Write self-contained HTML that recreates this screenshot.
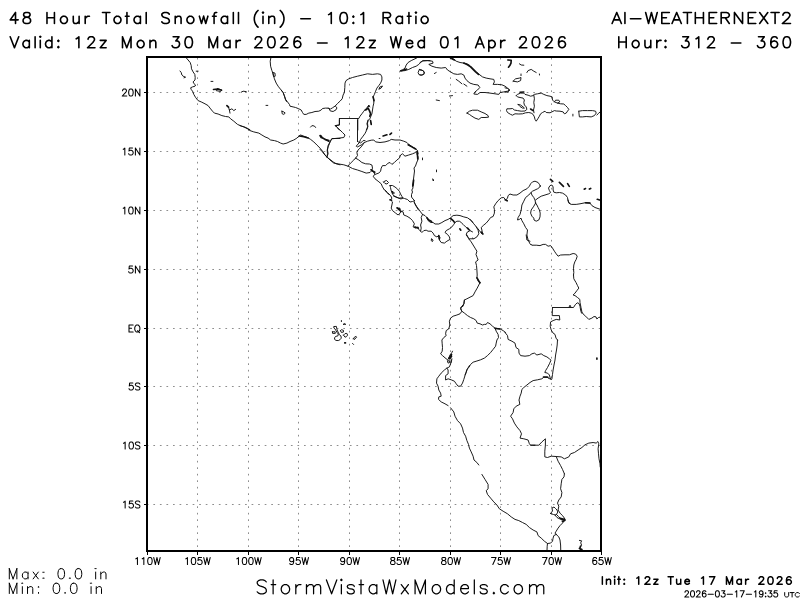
<!DOCTYPE html>
<html><head><meta charset="utf-8"><title>48 Hour Total Snowfall</title>
<style>html,body{margin:0;padding:0;background:#fff;font-family:"Liberation Sans",sans-serif}svg{display:block}</style>
</head><body>
<svg width="800" height="600" viewBox="0 0 800 600">
<rect width="800" height="600" fill="#fff"/>
<path d="M197.5 58.0V551.0M248.5 58.0V551.0M298.5 58.0V551.0M349.5 58.0V551.0M399.5 58.0V551.0M450.5 58.0V551.0M500.5 58.0V551.0M551.5 58.0V551.0" fill="none" stroke="#8e8e8e" stroke-width="1" stroke-dasharray="1.7 4.8" stroke-dashoffset="0.2"/>
<path d="M148.0 92.5H601.0M148.0 151.5H601.0M148.0 210.5H601.0M148.0 269.5H601.0M148.0 328.5H601.0M148.0 386.5H601.0M148.0 445.5H601.0M148.0 504.5H601.0" fill="none" stroke="#8e8e8e" stroke-width="1" stroke-dasharray="1.7 4.85" stroke-dashoffset="1.2"/>
<defs><clipPath id="mc"><rect x="147.0" y="57.0" width="454.0" height="494.0"/></clipPath></defs><g fill="none" stroke="#111" stroke-linejoin="round" stroke-linecap="round" clip-path="url(#mc)"><path stroke-width="0.95" d="M186.2 57.8L188.1 60.0L190.2 62.5L191.2 65.6L191.5 68.8L193.1 71.9L194.8 74.4L195.2 77.5L195.0 80.0L193.1 81.9L193.8 83.5L195.6 85.0L195.0 86.2L192.5 86.9L190.6 87.8L191.2 89.4L192.5 91.2L193.8 94.4L195.6 97.5L198.1 100.6L201.2 101.9L205.0 103.8L208.1 105.6L210.0 108.1L212.5 111.2L214.4 113.1L218.1 114.0L221.9 115.6L225.6 116.5L228.8 116.9L230.6 118.8L233.8 121.2L237.5 124.4L241.2 126.0L245.0 127.2L248.8 129.0L250.0 129.8M180.0 71.0L181.2 72.5L181.9 75.0L183.1 76.2L185.6 77.2L184.0 77.8M196.2 71.2L198.1 71.2M211.0 81.4L212.9 81.4M217.5 88.5L221.9 90.0L220.6 91.5L216.2 90.6M241.2 92.2L243.1 91.2L246.2 91.6M228.5 107.2L229.4 110.0L231.9 108.8L233.8 110.6L235.6 109.4M229.4 110.0L230.0 113.1M240.0 125.6L243.8 126.9L247.5 128.8L250.0 130.6L253.8 131.9L258.8 133.1L261.9 135.0L265.0 136.9L268.1 138.1L270.6 140.0L274.4 140.6L277.5 141.5L280.6 143.1L283.1 144.0L286.9 143.1L290.0 141.5L293.8 140.0L296.9 138.1L298.8 136.2L300.6 135.0L303.8 136.2L307.5 137.5L310.6 139.4L313.8 141.9L316.9 145.0L320.0 148.1L322.5 151.2L325.0 155.0L326.9 157.2L330.0 159.4L333.1 161.9L336.2 163.8L340.0 164.8M281.2 90.0L283.1 92.5L284.4 95.6L285.6 99.4L287.5 101.9L289.4 104.4L290.0 106.2L293.1 106.9L295.6 107.5L298.8 108.8L301.2 110.0L302.5 112.5L303.8 114.4L306.2 114.4L308.8 113.1L311.9 112.5L315.0 111.5L318.8 111.2L321.2 110.0L322.5 108.5L325.6 108.1L328.1 108.2M326.9 157.2L327.5 153.8L327.2 150.0L328.1 146.9L329.4 143.8L330.6 140.6L331.9 138.5L340.0 138.5M266.0 105.4L267.8 105.4M281.9 111.2L283.8 111.9L285.2 113.1L283.8 114.4L282.2 113.8L281.9 111.2M310.6 127.1L311.9 125.6L314.4 126.0L315.6 127.5M271.0 57.2L270.2 61.2L270.6 66.2L271.9 70.6L273.1 73.8L274.4 78.8L276.2 83.1L278.1 86.2L280.6 89.4L283.1 92.5L284.4 96.2L285.6 100.0L286.5 101.5M272.8 72.5L275.0 73.1L275.2 76.2L273.5 76.5L272.8 72.5M335.2 106.0L337.5 103.5L340.2 101.0L342.2 98.8L343.1 95.0L344.4 92.5L344.8 87.5L345.0 83.1L346.0 80.6L348.8 78.8L352.5 77.5L357.5 76.2L362.5 75.0L367.5 73.8L372.5 74.4L377.5 73.8L380.6 74.4L381.9 76.9L381.9 80.0L380.6 83.1L378.8 85.6L376.9 88.1L375.6 91.2L374.4 94.4L373.1 96.9L373.8 100.0L373.8 103.1L373.1 106.2L372.5 110.0L371.9 113.8L370.6 116.9L369.8 118.8L368.1 120.6L367.5 123.1L367.8 126.2L366.9 128.8L366.2 130.0M379.1 89.0L379.8 87.0L382.5 86.0L381.0 88.2L379.1 89.0M328.2 108.2L329.0 108.5L330.2 110.9L333.1 111.5L336.0 109.8L337.0 107.8L335.2 106.0L332.5 107.8L330.5 109.0L329.0 108.5M339.4 118.5L358.8 118.5L360.0 116.2L361.9 113.8L363.8 111.2L365.6 109.0L367.5 107.2L369.0 106.2M367.5 107.2L368.8 105.0L369.8 106.9M339.4 118.5L339.4 125.0L335.6 125.6L337.5 127.5L339.4 130.0M357.8 118.5L357.8 130.0M400.6 70.6L402.5 70.0L405.0 68.1L406.2 65.0L408.1 62.5L411.2 60.6L415.0 58.8L417.5 57.5M400.6 71.0L405.0 70.6L408.8 69.4L412.5 67.5L416.2 66.2L418.8 64.4L421.2 61.9L423.1 60.6L430.0 60.6M419.4 69.4L421.9 70.0L424.4 71.9L423.8 74.4L421.2 75.2L418.8 74.4L418.1 72.5L419.4 69.4M420.0 62.5L422.5 61.0L427.5 60.6L432.5 61.2L433.1 63.1L428.8 64.4L431.9 66.2L436.2 67.5L441.2 68.1L445.6 67.5L447.5 70.0L450.6 71.9L453.8 73.8L457.5 74.4L461.2 73.8L463.8 75.0L465.0 78.1L466.9 80.6L470.0 83.1L473.8 84.4L478.1 85.0L479.8 87.5L477.5 90.0L475.0 91.9L473.8 94.0L477.5 94.4L480.0 92.5L485.0 92.5L490.0 93.1L495.0 93.8L498.8 94.4L500.0 92.5L503.8 91.9L507.5 91.2L509.4 89.8L507.5 88.1L505.0 86.2L501.9 84.8L497.5 84.4L493.1 84.4L494.4 81.9L493.8 79.4L490.0 78.8L486.2 78.1L482.5 76.9L480.0 75.0L477.5 73.1L475.0 70.6L472.5 68.1L470.0 65.6L466.9 63.8L463.8 63.1L460.0 62.5L456.2 61.2L453.1 58.8L450.0 57.5M456.2 79.4L458.8 81.2L461.9 83.8M463.8 84.0L466.9 86.2M436.2 100.0L439.4 100.6M449.4 96.0L452.5 95.6M420.0 70.0L423.1 70.6L424.4 73.1L422.5 75.0L420.0 75.0M434.4 73.5L436.2 72.5M466.9 113.1L469.4 111.2L472.5 110.2L477.5 110.2L481.2 111.9L485.0 113.5L488.1 115.6L488.5 117.2L485.0 117.5L481.2 117.5L478.8 119.4L475.0 118.1L471.9 116.2L469.4 114.4L466.9 113.1M519.4 63.8L521.2 65.0L523.8 65.2M526.9 72.5L528.1 70.6L531.2 69.4L533.8 71.2L536.2 72.5M539.4 74.0L539.5 75.0M513.1 81.2L515.6 78.8L519.4 78.1L521.0 77.5L520.6 80.6L517.5 81.9L513.1 81.2M521.0 74.0L521.0 75.6M505.0 87.8L507.5 88.5L509.8 90.0L508.1 91.9L505.0 92.2M516.2 95.6L517.5 94.4L520.6 93.1L523.8 93.1L525.0 94.4L528.1 95.2L530.6 96.2L533.1 95.6L534.4 94.4L537.5 93.8L541.2 93.1L543.8 94.4L546.9 95.6L550.0 96.2L552.2 96.9L552.5 100.0L554.4 101.9L557.5 103.1L560.6 103.8L563.8 104.0L565.6 105.6L567.5 107.5L568.8 109.4L567.5 111.2L566.2 113.1L564.4 113.8L563.1 111.9L560.0 111.2L556.2 111.0L554.4 110.6L551.9 111.9L550.0 112.8L546.2 112.5L545.0 111.2L542.5 112.5L540.6 113.8L539.4 116.2L537.8 118.8L536.2 121.2L535.0 119.4L534.4 116.9L533.1 114.4L531.2 113.1L528.8 112.5L525.6 112.8L522.5 113.8L518.8 114.0L515.0 113.8L512.5 115.2L510.6 114.4L507.5 112.5L506.5 110.6L506.9 108.8L510.0 108.8L512.5 108.5L514.4 110.0L517.5 110.6L521.2 111.2L525.0 111.0L526.9 109.4L526.2 106.9L524.4 105.0L523.8 102.5L524.4 100.0L523.1 98.1L520.0 97.5L517.5 96.9L516.2 95.6M554.4 101.9L555.6 100.2L558.8 100.2L559.8 101.9L557.5 103.1M518.1 104.4L520.6 105.0L523.1 106.9L524.4 108.1L522.5 108.1L520.0 106.5L518.1 104.4M533.8 95.0L534.4 98.8L533.8 102.5L534.4 106.2L533.5 110.0L534.0 112.8M578.8 111.2L582.5 110.6L587.5 110.6L592.5 110.6L595.6 111.2L596.2 113.1L594.4 115.6L591.2 116.9L586.2 116.5L582.5 116.9L579.4 116.9L579.0 113.8L578.8 111.2M572.9 114.2L572.9 116.0M596.9 115.0L598.8 113.1L599.8 112.2M339.4 120.0L339.4 125.0L335.0 125.6L336.9 127.5L340.0 130.0L342.5 132.5L345.0 135.0L343.8 137.5L338.8 138.1L331.9 138.8L330.0 141.9L328.1 145.6L327.5 150.0L328.1 153.8L326.9 156.9M320.0 149.4L322.5 151.9L325.0 155.0L326.9 156.9L330.0 160.0L333.8 163.1L338.8 164.0L343.8 164.8L348.1 166.2L352.5 168.5L357.5 170.0L361.9 171.5L366.2 173.1L370.0 172.5L371.9 170.6L373.8 172.5L375.0 174.4L373.1 176.2L375.0 178.8L378.1 181.2L381.2 183.8L382.5 186.9L384.4 190.0L387.5 193.1L389.4 195.0M357.5 120.0L357.5 141.5M368.1 120.0L366.9 123.8L367.8 126.9L366.5 130.6L364.8 133.8L362.5 136.9L360.6 139.4L359.4 142.5L356.2 146.2L357.5 146.9L361.2 145.0L364.4 142.5L367.5 141.2L371.2 140.2L373.8 140.0L375.6 141.9L380.0 142.5L385.0 141.9L389.4 140.6L391.2 139.4L395.0 140.0L400.0 140.0L403.8 141.2L406.9 142.5L409.4 145.0L412.5 146.9L415.6 148.8L417.5 150.6L418.1 153.8M357.5 141.5L360.6 143.1L363.1 140.6L365.0 140.6M379.1 138.5L380.0 138.5M364.4 142.5L361.2 146.9L358.1 150.0L356.9 152.5L357.5 155.6L355.6 158.1M355.6 158.1L353.8 160.0L351.2 162.5L349.4 164.4L348.1 166.2M355.6 158.1L358.8 160.0L361.9 162.5L365.6 163.8L369.4 164.0L371.9 165.0L372.5 168.1L371.9 170.0M375.0 174.4L378.8 173.1L380.6 171.2L381.2 168.1L382.5 165.6L385.6 165.6L388.1 163.1L390.0 162.5L391.9 164.4L394.4 162.5L396.9 160.0L399.4 158.1L400.6 155.0L402.5 153.8L405.0 156.2L408.8 155.0L412.5 153.8L415.6 152.5L417.5 151.2M417.5 151.0L417.0 154.0L418.0 157.0L417.8 160.0L416.5 163.0L415.5 166.0L414.0 168.0L414.5 171.0L414.0 175.0L413.5 179.0L413.2 182.0L412.5 185.0L413.0 188.0L411.8 190.0L412.5 192.0L411.5 194.5L411.5 197.0L413.0 199.0L414.5 200.5L414.0 202.0L416.0 206.0L418.5 210.0M383.5 182.0L385.0 181.0L386.5 180.5L388.5 182.5L387.0 184.0L385.0 183.5L383.5 182.0M390.0 185.5L392.5 185.5L395.0 187.0L397.5 189.0L399.5 191.5L400.5 194.0L402.0 196.5L403.0 198.0L401.0 199.0L398.5 198.0L396.0 197.0L393.5 195.5L392.0 193.0L391.0 190.0L390.5 187.5L390.0 185.5M392.5 191.5L394.5 193.0L392.5 193.5L392.5 191.5M393.5 196.0L396.0 197.0L399.0 198.2L402.0 197.8L404.5 198.5L407.5 199.5L410.0 202.0L412.5 201.5L414.5 200.5M422.5 158.0L422.5 159.8M436.5 170.0L436.5 171.8M432.8 179.2L433.8 180.0L433.2 181.0L432.8 179.2M385.0 190.0L387.5 192.5L390.6 195.6L391.9 198.1L390.6 200.0L392.5 201.9L391.9 205.0L391.2 208.1L392.5 210.6L395.6 213.1L398.1 215.0L400.0 213.1L401.2 211.2L403.1 211.9L403.8 215.0L406.9 216.2L410.0 218.1L412.5 220.6L414.4 223.8L413.1 226.9L415.6 228.1L418.1 226.9L418.8 229.4L420.6 231.2L421.9 232.5L423.8 230.6L426.2 230.2L428.1 231.2L431.2 231.2L433.1 233.1L434.4 235.6L436.9 236.9L438.8 235.6L440.0 237.5L439.4 240.0L441.2 242.5L444.4 243.1L446.9 241.2L450.0 239.4L449.4 236.9L447.5 234.4L445.0 232.5L446.2 230.6L449.4 228.8L451.9 226.9L453.8 224.4L455.0 222.5L456.9 221.2L459.4 221.2L461.2 222.5L463.1 224.4L465.6 226.9L468.1 228.8L470.0 230.6L472.5 231.9M470.0 230.6L466.9 232.5L466.2 235.0L468.1 237.5M414.5 202.5L415.0 203.8L416.9 206.9L418.8 209.4L420.6 211.9L422.5 214.4L425.0 215.6L426.9 217.5L428.1 220.6L430.6 222.5L433.1 222.5L435.0 224.0L438.8 224.0L441.9 222.5L445.0 220.6L448.1 219.4L450.6 217.8L453.1 215.6L456.9 215.2L460.0 215.6L463.8 216.9L467.5 217.8L470.6 220.0L473.1 222.5M422.5 214.4L421.2 217.5L421.9 221.2L420.6 225.0L421.2 228.1L420.6 231.2M431.5 239.0L433.1 240.0L432.5 241.5L431.2 240.6L431.5 239.0M482.5 233.8L481.9 230.0L481.2 227.5L483.8 225.0L486.2 223.1L488.8 220.0L490.6 217.5L493.1 216.5L494.4 213.1L494.4 209.4L493.8 206.9L495.6 203.8L498.1 200.6L501.2 197.8L503.8 197.5L505.6 200.0L507.5 198.1L508.1 195.6L510.0 194.0L513.1 195.0L516.9 195.0L520.0 193.1L523.1 190.6L526.9 188.8L529.4 186.2L530.6 183.8L532.5 181.9L535.0 181.2L538.1 182.5L539.4 184.4L540.6 186.0L539.4 187.5L537.5 188.8L535.0 190.0L532.5 191.2L531.0 192.5L531.9 195.0L533.8 197.5L535.0 200.0L535.6 203.1M535.6 203.1L533.8 206.2L531.2 210.0L530.6 213.1L531.9 216.2L533.8 218.1L534.0 220.0L536.2 221.2L538.8 220.0L540.0 216.9L540.2 213.1L539.4 210.0L538.1 207.5L536.9 205.0L535.6 203.1M535.6 200.0L538.1 198.1L541.2 196.2L545.0 195.0L548.8 193.8L550.6 192.5L549.4 190.6L548.5 188.1L550.0 185.6L551.9 185.0L553.1 186.9L553.1 190.0L553.8 192.2L556.2 192.8L559.4 192.5L562.5 193.1L565.6 195.0L567.5 197.5L568.1 201.2L570.0 203.8M531.0 192.5L528.8 195.0L525.6 197.5L523.8 201.2L521.9 205.0L521.2 210.0L520.0 214.4L518.1 217.5L517.5 220.0L519.4 219.4L521.0 218.1L521.9 220.6L523.8 223.8L525.6 227.5L527.5 230.0L526.9 235.0L528.1 240.0L530.0 243.8L531.2 245.0M470.0 219.4L473.8 223.8L476.9 227.5L479.4 230.6L481.9 233.8M476.2 226.9L478.1 230.0L478.8 233.8L476.9 236.9L473.8 238.8L472.5 238.1M539.6 186.0L540.3 186.0M568.1 200.0L568.8 203.1L571.2 204.4L576.2 204.4L580.0 203.8L585.0 202.8L590.0 203.1L591.9 205.6L595.0 207.5L599.4 209.0L601.2 209.5M531.2 244.4L531.9 245.2L536.2 245.2L540.0 245.6L543.1 244.4L545.6 244.4L548.1 246.2L550.6 245.6L552.5 248.1L554.4 251.2L556.2 253.8L558.1 256.2L560.6 255.0L565.0 254.8L569.4 254.8L573.1 253.5L575.6 254.0L577.2 256.2L576.2 259.4L574.8 261.9L573.8 265.0L573.5 268.8L573.8 272.5L573.5 275.0M573.5 275.0L573.8 278.8L576.0 282.5L577.5 285.6L578.8 288.1L576.9 290.6L575.0 293.1L573.1 295.0L575.0 295.6L577.5 297.5L579.8 299.4L580.0 302.5L581.0 307.5L581.9 311.9L583.1 314.0L585.6 316.2L588.8 319.4L591.9 318.1L594.0 316.5L596.0 316.9L596.9 319.0L598.5 317.5L601.2 316.9M552.5 307.5L570.0 307.5L573.5 307.5L575.2 304.8L577.2 302.8L579.0 303.5L580.0 306.2L580.6 310.0L581.5 313.1M569.0 307.2L570.0 305.2L571.0 307.2M552.5 307.5L552.2 315.6L559.4 315.6L559.8 320.0L556.2 319.4L553.1 320.6L550.6 321.9L550.2 326.2L551.2 330.0L553.1 333.1L555.0 334.4L556.0 338.1L557.5 340.0M466.9 235.0L468.8 238.8L471.2 241.9L473.1 245.0L475.0 248.1L476.9 251.2L476.0 254.4L477.2 257.5L478.1 260.0L475.6 261.9L476.5 265.6L476.9 270.0L477.2 275.0L476.9 278.1L478.1 280.6L480.0 282.5L478.8 285.0L477.2 288.1L475.0 291.9L473.1 295.6L470.0 297.2L466.9 298.8L464.4 300.0L463.8 303.8L463.1 306.2L460.6 307.5L461.2 310.0M468.8 238.8L473.1 238.8M526.2 235.0L526.9 240.0L530.0 241.2M464.4 300.0L464.0 303.8L461.9 306.2L460.6 308.8L461.9 311.2L460.0 313.8L456.9 315.0L453.1 316.2L450.6 318.1L449.4 321.2L449.8 325.0L448.8 328.8L446.2 330.6L445.6 333.8L446.2 335.6L443.8 337.5L441.9 340.0L442.2 343.8L442.5 347.5L442.2 351.2L440.6 353.8L442.5 355.6L445.0 357.8L447.5 359.8L448.8 358.1L450.0 355.0L451.9 352.5L452.5 351.2M451.9 358.8L451.2 362.5M447.5 361.0L449.4 360.6L449.8 362.5L448.1 363.1L447.5 361.0M461.9 311.2L464.4 313.1L467.5 315.6L470.6 317.5L473.8 318.8L476.2 320.6L477.2 323.1L480.0 323.8L482.5 325.0L484.4 324.4L486.2 324.4L487.5 322.5L490.0 323.8L492.5 326.2L495.0 328.1L500.0 328.8L503.1 330.6L505.6 332.5M495.0 328.1L496.2 331.2L498.1 334.4L498.5 337.5L496.9 340.0L496.2 343.1L495.6 346.2L493.1 349.4L490.6 352.5L487.5 355.6L484.4 358.1L480.6 359.8L476.9 361.0L473.1 362.2L470.6 364.4L468.8 367.5L466.9 369.4L466.2 372.5L465.0 375.0M451.2 360.0L450.6 363.8L449.4 366.9L446.9 368.1L444.4 370.0L441.2 373.1L438.8 376.2L436.9 378.8L436.5 383.1L438.1 386.2L438.8 390.0L440.6 393.1L441.2 396.2L438.8 396.9L438.5 399.4L441.2 401.9L445.0 403.8L448.1 405.6M446.9 368.1L448.1 370.0L448.1 373.8L445.6 375.6L445.6 380.0L448.1 378.8L451.2 379.8L454.4 381.2L456.2 383.8L458.1 386.2L460.6 386.2L462.5 383.1L463.8 379.4L465.0 375.6L466.2 371.9L467.5 368.8L469.4 365.6M505.0 332.5L507.5 335.6L508.1 339.4L511.9 341.2L515.0 343.1L516.0 347.5L518.8 349.4L519.0 353.1L520.6 355.6L525.0 356.2L529.4 355.6L531.9 353.8L534.4 353.1L536.9 355.0L541.2 353.8L543.8 355.6L546.9 356.9L549.4 358.8L551.0 360.2L549.4 363.8L547.5 367.5L545.6 370.6L544.8 372.5L547.5 373.1L549.4 375.0L550.2 378.1L551.2 379.4M557.5 340.0L557.2 345.0L556.5 350.0L555.6 355.0L555.0 360.0L554.0 365.0L553.1 370.0L552.5 374.4L551.9 378.8M551.2 379.4L548.1 378.1L547.5 376.9L543.8 377.2L541.9 378.8L537.5 379.8L533.1 380.6L530.0 382.5L526.9 385.0L523.8 387.5L521.9 389.4L521.2 393.1L520.0 396.2L519.0 400.0M450.6 407.8L453.8 411.9L455.0 416.2L457.5 420.6L460.6 423.8L462.5 428.1L463.5 432.5L465.6 436.2L466.9 440.6L468.5 444.4L469.4 448.1L471.2 451.9L473.1 456.2L474.0 460.0L476.9 462.5L478.8 465.0M519.2 400.6L519.8 404.4L516.2 406.2L513.8 408.8L513.1 412.5L510.6 416.2L512.5 418.8L514.4 423.1L516.9 426.9L520.0 430.6L521.5 433.8L520.0 438.1L523.8 438.8L528.1 440.0L529.4 443.8L530.6 445.2L535.0 445.2M530.6 445.2L538.8 445.2L541.9 441.9L545.4 438.8L545.4 445.0L544.8 451.2L544.8 456.9L547.5 457.5L551.2 456.2L556.2 456.5L561.2 456.9L564.4 458.8L568.8 456.9L570.6 453.8L574.4 452.5L578.1 450.0L581.9 447.5L585.0 444.8L588.8 443.1L593.1 442.5L596.2 443.1L597.9 441.5L598.8 443.8L598.1 448.8L598.5 453.8L599.0 458.8L600.0 463.8L600.2 466.9M556.2 456.5L558.1 461.2L560.6 465.6L562.5 469.4L564.4 473.8M481.9 474.4L485.0 479.4L488.1 484.4L488.1 488.8L486.2 490.6L487.5 494.4L490.6 498.1L493.8 501.9L496.9 505.0L499.4 508.8L503.1 511.2L507.5 513.8L511.2 516.9L515.0 519.4L518.8 520.6L522.5 522.5L526.2 524.4L529.4 527.5L533.1 530.0L536.9 531.9L538.1 535.6L541.2 538.1L544.4 541.2L547.5 543.5L547.2 546.2L546.9 552.5M547.5 543.5L550.6 543.1L552.5 541.2L553.1 538.1L553.8 535.6L556.2 534.4M556.2 534.4L558.8 536.9L560.0 540.0L560.6 545.0L560.8 552.5M564.4 473.8L564.0 476.9L561.9 479.4L561.2 483.8L560.6 488.8L561.9 492.5L561.2 496.9L558.8 500.0L557.5 503.1L558.8 506.2L558.1 510.0L560.0 513.1L562.5 515.6L564.4 518.1L564.8 520.0L562.5 523.1L560.0 525.6L558.1 528.1L556.2 531.2L555.0 533.1L556.2 534.4M579.4 540.4L581.6 540.8L580.7 542.9L581.6 545.1L580.5 546.8M334.1 326.5L336.4 326.4L336.8 328.8L337.5 331.0L338.6 332.9L339.4 334.8L340.9 335.9L341.3 338.1L340.1 339.6L338.3 340.6L336.0 340.4L334.5 339.3L334.7 337.4L336.0 336.3L337.9 335.9L338.3 334.0L337.1 332.5L336.0 330.6L334.9 328.8L333.8 328.0L334.1 326.5M332.4 331.8L335.1 331.8L335.3 333.4L332.6 333.4L332.4 331.8M340.5 330.6L341.6 329.7L343.5 330.4L343.4 332.1L341.3 332.4L340.5 330.6M343.5 335.1L345.0 333.6L346.9 333.4L347.6 335.1L346.5 336.6L345.0 337.2L343.5 335.1M353.4 338.9L354.4 337.2L356.1 336.4L356.6 337.2L355.1 338.9L354.0 339.5L353.4 338.9M352.5 343.4L353.6 344.5M341.4 320.5L341.4 321.6M343.4 324.3L344.6 323.5L345.8 324.4L343.4 324.3M550.5 513.5L552.5 511.0L552.0 508.0L554.0 507.0L555.5 508.5L557.0 510.0L557.8 512.0L556.5 514.5L555.0 515.0L553.5 514.5L552.0 514.0L550.5 513.5M556.5 514.5L558.5 516.5L560.0 518.0L562.0 518.5M555.0 515.0L557.0 517.5L559.0 518.5L560.5 519.2"/><path stroke-width="1.65" d="M213.5 89.5L217.5 89.0L221.5 90.2M226.9 105.6L228.5 107.2M299.4 136.0L303.8 136.8L308.1 138.0M320.0 135.6L321.2 137.5L323.1 138.1L325.0 139.4L327.5 140.6L328.8 141.2M365.6 110.0L368.1 108.1L369.4 110.6L370.6 113.8L369.8 116.2M370.8 121.9L371.2 124.4M373.1 96.9L374.0 100.6M401.0 70.8L403.8 70.0L406.5 69.0M463.8 63.1L467.5 64.8L470.6 66.9L473.1 69.4L475.6 71.9L478.5 74.4M450.6 58.1L454.4 60.0M507.8 60.0L511.2 60.2L511.0 63.1L509.8 65.6L508.5 67.2M530.6 109.0L533.1 110.6M520.0 92.2L523.8 92.0M320.6 135.6L322.5 138.1L325.6 139.4L328.8 140.6M371.0 169.8L373.1 171.2L374.8 172.2M408.1 144.8L411.9 146.9L415.6 149.0M370.6 120.6L371.2 123.8M383.1 136.0L386.9 134.8M390.0 134.4L391.5 133.1M413.6 180.0L413.0 186.0M417.2 152.0L417.8 159.0M397.0 207.8L400.0 209.2M397.2 207.8L399.4 210.0L401.0 211.5M390.0 199.8L391.5 200.2M426.9 217.8L428.8 220.0L431.5 221.5M450.6 218.5L453.1 220.6L454.4 222.2M438.8 235.6L439.2 238.8M459.8 228.8L460.8 230.2M467.5 228.1L469.0 229.8M415.0 226.9L417.8 228.1M481.5 232.5L482.8 233.8M505.2 199.8L507.2 200.8M481.5 232.2L482.9 234.0M550.5 179.4L552.7 181.4M559.4 182.4L563.4 186.4M567.6 183.6L569.3 186.4M584.2 189.2L585.5 188.5M589.4 189.1L590.7 188.4M597.3 199.3L600.4 200.2M585.6 202.8L590.0 203.0M477.0 277.8L479.0 281.5L480.0 282.8M448.8 358.5L450.6 356.0L451.5 354.4M449.8 358.8L451.5 356.2M495.6 328.5L499.8 329.0M543.5 377.0L547.8 377.2M596.9 358.0L596.9 359.2M580.5 546.2L579.8 548.5L581.3 550.5M579.4 548.3L581.9 549.6M344.7 342.9L345.5 342.9M560.5 518.5L564.5 519.2L565.0 520.2L562.5 521.5M561.5 519.5L564.0 520.0"/></g>
<rect x="147.0" y="57.0" width="454.0" height="494.0" fill="none" stroke="#000" stroke-width="2" shape-rendering="crispEdges"/>
<path d="M147.5 552.0V555.0M197.5 552.0V555.0M248.5 552.0V555.0M298.5 552.0V555.0M349.5 552.0V555.0M399.5 552.0V555.0M450.5 552.0V555.0M500.5 552.0V555.0M551.5 552.0V555.0M601.5 552.0V555.0M146.0 92.5H144.0M146.0 151.5H144.0M146.0 210.5H144.0M146.0 269.5H144.0M146.0 328.5H144.0M146.0 386.5H144.0M146.0 445.5H144.0M146.0 504.5H144.0" fill="none" stroke="#000" stroke-width="1" shape-rendering="crispEdges"/>
<path d="M122.59 90.67L122.59 90.34L122.91 89.67L123.23 89.34L123.88 89.01L125.16 89.01L125.80 89.34L126.11 89.67L126.44 90.34L126.44 91.00L126.11 91.67L125.47 92.67L122.27 96.00L126.75 96.00M130.59 89.01L129.63 89.34L129.00 90.34L128.68 92.00L128.68 93.00L129.00 94.67L129.63 95.67L130.59 96.00L131.23 96.00L132.19 95.67L132.84 94.67L133.16 93.00L133.16 92.00L132.84 90.34L132.19 89.34L131.23 89.01L130.59 89.01M135.40 89.01L135.40 96.00M135.40 89.01L139.88 96.00M139.88 89.01L139.88 96.00" fill="none" stroke="#000" stroke-width="1.05" stroke-linecap="round" stroke-linejoin="round"/>
<path d="M123.23 149.34L123.88 149.01L124.83 148.01L124.83 155.00M132.51 148.01L129.31 148.01L129.00 151.00L129.31 150.67L130.28 150.34L131.23 150.34L132.19 150.67L132.84 151.34L133.16 152.34L133.16 153.00L132.84 154.00L132.19 154.67L131.23 155.00L130.28 155.00L129.31 154.67L129.00 154.33L128.68 153.67M135.40 148.01L135.40 155.00M135.40 148.01L139.88 155.00M139.88 148.01L139.88 155.00" fill="none" stroke="#000" stroke-width="1.05" stroke-linecap="round" stroke-linejoin="round"/>
<path d="M123.23 208.34L123.88 208.01L124.83 207.01L124.83 214.00M130.59 207.01L129.63 207.34L129.00 208.34L128.68 210.00L128.68 211.00L129.00 212.67L129.63 213.67L130.59 214.00L131.23 214.00L132.19 213.67L132.84 212.67L133.16 211.00L133.16 210.00L132.84 208.34L132.19 207.34L131.23 207.01L130.59 207.01M135.40 207.01L135.40 214.00M135.40 207.01L139.88 214.00M139.88 207.01L139.88 214.00" fill="none" stroke="#000" stroke-width="1.05" stroke-linecap="round" stroke-linejoin="round"/>
<path d="M132.52 266.01L129.31 266.01L129.00 269.00L129.31 268.67L130.28 268.34L131.24 268.34L132.19 268.67L132.84 269.34L133.16 270.34L133.16 271.00L132.84 272.00L132.19 272.67L131.24 273.00L130.28 273.00L129.31 272.67L129.00 272.33L128.68 271.67M135.40 266.01L135.40 273.00M135.40 266.01L139.88 273.00M139.88 266.01L139.88 273.00" fill="none" stroke="#000" stroke-width="1.05" stroke-linecap="round" stroke-linejoin="round"/>
<path d="M129.00 325.01L129.00 332.00M129.00 325.01L133.16 325.01M129.00 328.34L131.56 328.34M129.00 332.00L133.16 332.00M136.68 325.01L136.03 325.34L135.40 326.01L135.08 326.67L134.75 327.67L134.75 329.34L135.08 330.33L135.40 331.00L136.03 331.67L136.68 332.00L137.96 332.00L138.59 331.67L139.24 331.00L139.56 330.33L139.88 329.34L139.88 327.67L139.56 326.67L139.24 326.01L138.59 325.34L137.96 325.01L136.68 325.01M137.63 330.67L139.56 332.67" fill="none" stroke="#000" stroke-width="1.05" stroke-linecap="round" stroke-linejoin="round"/>
<path d="M132.84 383.01L129.63 383.01L129.31 386.00L129.63 385.67L130.59 385.34L131.56 385.34L132.51 385.67L133.16 386.34L133.47 387.34L133.47 388.00L133.16 389.00L132.51 389.67L131.56 390.00L130.59 390.00L129.63 389.67L129.31 389.33L129.00 388.67M139.88 384.01L139.23 383.34L138.28 383.01L137.00 383.01L136.03 383.34L135.40 384.01L135.40 384.67L135.72 385.34L136.03 385.67L136.68 386.00L138.59 386.67L139.23 387.00L139.56 387.34L139.88 388.00L139.88 389.00L139.23 389.67L138.28 390.00L137.00 390.00L136.03 389.67L135.40 389.00" fill="none" stroke="#000" stroke-width="1.05" stroke-linecap="round" stroke-linejoin="round"/>
<path d="M123.55 443.34L124.19 443.01L125.15 442.01L125.15 449.00M130.91 442.01L129.95 442.34L129.31 443.34L129.00 445.00L129.00 446.00L129.31 447.67L129.95 448.67L130.91 449.00L131.55 449.00L132.51 448.67L133.16 447.67L133.47 446.00L133.47 445.00L133.16 443.34L132.51 442.34L131.55 442.01L130.91 442.01M139.88 443.01L139.23 442.34L138.27 442.01L137.00 442.01L136.03 442.34L135.39 443.01L135.39 443.67L135.72 444.34L136.03 444.67L136.67 445.00L138.59 445.67L139.23 446.00L139.56 446.34L139.88 447.00L139.88 448.00L139.23 448.67L138.27 449.00L137.00 449.00L136.03 448.67L135.39 448.00" fill="none" stroke="#000" stroke-width="1.05" stroke-linecap="round" stroke-linejoin="round"/>
<path d="M123.55 502.34L124.19 502.01L125.15 501.01L125.15 508.00M132.83 501.01L129.63 501.01L129.31 504.00L129.63 503.67L130.59 503.34L131.55 503.34L132.51 503.67L133.16 504.34L133.47 505.34L133.47 506.00L133.16 507.00L132.51 507.67L131.55 508.00L130.59 508.00L129.63 507.67L129.31 507.33L129.00 506.67M139.88 502.01L139.23 501.34L138.27 501.01L137.00 501.01L136.03 501.34L135.39 502.01L135.39 502.67L135.72 503.34L136.03 503.67L136.67 504.00L138.59 504.67L139.23 505.00L139.56 505.34L139.88 506.00L139.88 507.00L139.23 507.67L138.27 508.00L137.00 508.00L136.03 507.67L135.39 507.00" fill="none" stroke="#000" stroke-width="1.05" stroke-linecap="round" stroke-linejoin="round"/>
<path d="M135.84 558.84L136.48 558.51L137.44 557.51L137.44 564.50M142.24 558.84L142.88 558.51L143.84 557.51L143.84 564.50M149.60 557.51L148.64 557.84L148.00 558.84L147.68 560.50L147.68 561.50L148.00 563.17L148.64 564.17L149.60 564.50L150.24 564.50L151.20 564.17L151.84 563.17L152.16 561.50L152.16 560.50L151.84 558.84L151.20 557.84L150.24 557.51L149.60 557.51M153.76 557.51L155.36 564.50M156.96 557.51L155.36 564.50M156.96 557.51L158.56 564.50M160.16 557.51L158.56 564.50" fill="none" stroke="#000" stroke-width="1.05" stroke-linecap="round" stroke-linejoin="round"/>
<path d="M185.84 558.84L186.48 558.51L187.44 557.51L187.44 564.50M193.20 557.51L192.24 557.84L191.60 558.84L191.28 560.50L191.28 561.50L191.60 563.17L192.24 564.17L193.20 564.50L193.84 564.50L194.80 564.17L195.44 563.17L195.76 561.50L195.76 560.50L195.44 558.84L194.80 557.84L193.84 557.51L193.20 557.51M201.52 557.51L198.32 557.51L198.00 560.50L198.32 560.17L199.28 559.84L200.24 559.84L201.20 560.17L201.84 560.84L202.16 561.84L202.16 562.50L201.84 563.50L201.20 564.17L200.24 564.50L199.28 564.50L198.32 564.17L198.00 563.83L197.68 563.17M203.76 557.51L205.36 564.50M206.96 557.51L205.36 564.50M206.96 557.51L208.56 564.50M210.16 557.51L208.56 564.50" fill="none" stroke="#000" stroke-width="1.05" stroke-linecap="round" stroke-linejoin="round"/>
<path d="M236.84 558.84L237.48 558.51L238.44 557.51L238.44 564.50M244.20 557.51L243.24 557.84L242.60 558.84L242.28 560.50L242.28 561.50L242.60 563.17L243.24 564.17L244.20 564.50L244.84 564.50L245.80 564.17L246.44 563.17L246.76 561.50L246.76 560.50L246.44 558.84L245.80 557.84L244.84 557.51L244.20 557.51M250.60 557.51L249.64 557.84L249.00 558.84L248.68 560.50L248.68 561.50L249.00 563.17L249.64 564.17L250.60 564.50L251.24 564.50L252.20 564.17L252.84 563.17L253.16 561.50L253.16 560.50L252.84 558.84L252.20 557.84L251.24 557.51L250.60 557.51M254.76 557.51L256.36 564.50M257.96 557.51L256.36 564.50M257.96 557.51L259.56 564.50M261.16 557.51L259.56 564.50" fill="none" stroke="#000" stroke-width="1.05" stroke-linecap="round" stroke-linejoin="round"/>
<path d="M293.72 559.84L293.40 560.84L292.76 561.50L291.80 561.84L291.48 561.84L290.52 561.50L289.88 560.84L289.56 559.84L289.56 559.50L289.88 558.51L290.52 557.84L291.48 557.51L291.80 557.51L292.76 557.84L293.40 558.51L293.72 559.84L293.72 561.50L293.40 563.17L292.76 564.17L291.80 564.50L291.16 564.50L290.20 564.17L289.88 563.50M299.80 557.51L296.60 557.51L296.28 560.50L296.60 560.17L297.56 559.84L298.52 559.84L299.48 560.17L300.12 560.84L300.44 561.84L300.44 562.50L300.12 563.50L299.48 564.17L298.52 564.50L297.56 564.50L296.60 564.17L296.28 563.83L295.96 563.17M302.04 557.51L303.64 564.50M305.24 557.51L303.64 564.50M305.24 557.51L306.84 564.50M308.44 557.51L306.84 564.50" fill="none" stroke="#000" stroke-width="1.05" stroke-linecap="round" stroke-linejoin="round"/>
<path d="M344.72 559.84L344.40 560.84L343.76 561.50L342.80 561.84L342.48 561.84L341.52 561.50L340.88 560.84L340.56 559.84L340.56 559.50L340.88 558.51L341.52 557.84L342.48 557.51L342.80 557.51L343.76 557.84L344.40 558.51L344.72 559.84L344.72 561.50L344.40 563.17L343.76 564.17L342.80 564.50L342.16 564.50L341.20 564.17L340.88 563.50M348.88 557.51L347.92 557.84L347.28 558.84L346.96 560.50L346.96 561.50L347.28 563.17L347.92 564.17L348.88 564.50L349.52 564.50L350.48 564.17L351.12 563.17L351.44 561.50L351.44 560.50L351.12 558.84L350.48 557.84L349.52 557.51L348.88 557.51M353.04 557.51L354.64 564.50M356.24 557.51L354.64 564.50M356.24 557.51L357.84 564.50M359.44 557.51L357.84 564.50" fill="none" stroke="#000" stroke-width="1.05" stroke-linecap="round" stroke-linejoin="round"/>
<path d="M392.16 557.51L391.20 557.84L390.88 558.51L390.88 559.17L391.20 559.84L391.84 560.17L393.12 560.50L394.08 560.84L394.72 561.50L395.04 562.17L395.04 563.17L394.72 563.83L394.40 564.17L393.44 564.50L392.16 564.50L391.20 564.17L390.88 563.83L390.56 563.17L390.56 562.17L390.88 561.50L391.52 560.84L392.48 560.50L393.76 560.17L394.40 559.84L394.72 559.17L394.72 558.51L394.40 557.84L393.44 557.51L392.16 557.51M400.80 557.51L397.60 557.51L397.28 560.50L397.60 560.17L398.56 559.84L399.52 559.84L400.48 560.17L401.12 560.84L401.44 561.84L401.44 562.50L401.12 563.50L400.48 564.17L399.52 564.50L398.56 564.50L397.60 564.17L397.28 563.83L396.96 563.17M403.04 557.51L404.64 564.50M406.24 557.51L404.64 564.50M406.24 557.51L407.84 564.50M409.44 557.51L407.84 564.50" fill="none" stroke="#000" stroke-width="1.05" stroke-linecap="round" stroke-linejoin="round"/>
<path d="M443.16 557.51L442.20 557.84L441.88 558.51L441.88 559.17L442.20 559.84L442.84 560.17L444.12 560.50L445.08 560.84L445.72 561.50L446.04 562.17L446.04 563.17L445.72 563.83L445.40 564.17L444.44 564.50L443.16 564.50L442.20 564.17L441.88 563.83L441.56 563.17L441.56 562.17L441.88 561.50L442.52 560.84L443.48 560.50L444.76 560.17L445.40 559.84L445.72 559.17L445.72 558.51L445.40 557.84L444.44 557.51L443.16 557.51M449.88 557.51L448.92 557.84L448.28 558.84L447.96 560.50L447.96 561.50L448.28 563.17L448.92 564.17L449.88 564.50L450.52 564.50L451.48 564.17L452.12 563.17L452.44 561.50L452.44 560.50L452.12 558.84L451.48 557.84L450.52 557.51L449.88 557.51M454.04 557.51L455.64 564.50M457.24 557.51L455.64 564.50M457.24 557.51L458.84 564.50M460.44 557.51L458.84 564.50" fill="none" stroke="#000" stroke-width="1.05" stroke-linecap="round" stroke-linejoin="round"/>
<path d="M496.04 557.51L492.84 564.50M491.56 557.51L496.04 557.51M501.80 557.51L498.60 557.51L498.28 560.50L498.60 560.17L499.56 559.84L500.52 559.84L501.48 560.17L502.12 560.84L502.44 561.84L502.44 562.50L502.12 563.50L501.48 564.17L500.52 564.50L499.56 564.50L498.60 564.17L498.28 563.83L497.96 563.17M504.04 557.51L505.64 564.50M507.24 557.51L505.64 564.50M507.24 557.51L508.84 564.50M510.44 557.51L508.84 564.50" fill="none" stroke="#000" stroke-width="1.05" stroke-linecap="round" stroke-linejoin="round"/>
<path d="M547.04 557.51L543.84 564.50M542.56 557.51L547.04 557.51M550.88 557.51L549.92 557.84L549.28 558.84L548.96 560.50L548.96 561.50L549.28 563.17L549.92 564.17L550.88 564.50L551.52 564.50L552.48 564.17L553.12 563.17L553.44 561.50L553.44 560.50L553.12 558.84L552.48 557.84L551.52 557.51L550.88 557.51M555.04 557.51L556.64 564.50M558.24 557.51L556.64 564.50M558.24 557.51L559.84 564.50M561.44 557.51L559.84 564.50" fill="none" stroke="#000" stroke-width="1.05" stroke-linecap="round" stroke-linejoin="round"/>
<path d="M596.56 558.51L596.24 557.84L595.28 557.51L594.64 557.51L593.68 557.84L593.04 558.84L592.72 560.50L592.72 562.17L593.04 563.50L593.68 564.17L594.64 564.50L594.96 564.50L595.92 564.17L596.56 563.50L596.88 562.50L596.88 562.17L596.56 561.17L595.92 560.50L594.96 560.17L594.64 560.17L593.68 560.50L593.04 561.17L592.72 562.17M602.64 557.51L599.44 557.51L599.12 560.50L599.44 560.17L600.40 559.84L601.36 559.84L602.32 560.17L602.96 560.84L603.28 561.84L603.28 562.50L602.96 563.50L602.32 564.17L601.36 564.50L600.40 564.50L599.44 564.17L599.12 563.83L598.80 563.17M604.88 557.51L606.48 564.50M608.08 557.51L606.48 564.50M608.08 557.51L609.68 564.50M611.28 557.51L609.68 564.50" fill="none" stroke="#000" stroke-width="1.05" stroke-linecap="round" stroke-linejoin="round"/>
<path d="M15.52 12.54L10.20 19.85L18.19 19.85M15.52 12.54L15.52 23.50M25.77 12.54L24.17 13.06L23.64 14.10L23.64 15.15L24.17 16.19L25.23 16.71L27.36 17.24L28.96 17.76L30.03 18.80L30.56 19.85L30.56 21.41L30.03 22.46L29.49 22.98L27.90 23.50L25.77 23.50L24.17 22.98L23.64 22.46L23.11 21.41L23.11 19.85L23.64 18.80L24.70 17.76L26.30 17.24L28.43 16.71L29.49 16.19L30.03 15.15L30.03 14.10L29.49 13.06L27.90 12.54L25.77 12.54M46.98 12.54L46.98 23.50M54.43 12.54L54.43 23.50M46.98 17.76L54.43 17.76M63.14 16.19L62.07 16.71L61.01 17.76L60.47 19.32L60.47 20.37L61.01 21.93L62.07 22.98L63.14 23.50L64.73 23.50L65.80 22.98L66.86 21.93L67.39 20.37L67.39 19.32L66.86 17.76L65.80 16.71L64.73 16.19L63.14 16.19M73.27 16.19L73.27 21.41L73.80 22.98L74.86 23.50L76.46 23.50L77.53 22.98L79.12 21.41M79.12 16.19L79.12 23.50M85.19 16.19L85.19 23.50M85.19 19.32L85.72 17.76L86.79 16.71L87.85 16.19L89.45 16.19M106.20 12.54L106.20 23.50M102.47 12.54L109.93 12.54M116.69 16.19L115.63 16.71L114.56 17.76L114.03 19.32L114.03 20.37L114.56 21.93L115.63 22.98L116.69 23.50L118.29 23.50L119.36 22.98L120.42 21.93L120.95 20.37L120.95 19.32L120.42 17.76L119.36 16.71L118.29 16.19L116.69 16.19M126.96 12.54L126.96 23.50M125.36 16.19L129.09 16.19M140.42 16.19L140.42 23.50M140.42 17.76L139.36 16.71L138.29 16.19L136.70 16.19L135.63 16.71L134.57 17.76L134.04 19.32L134.04 20.37L134.57 21.93L135.63 22.98L136.70 23.50L138.29 23.50L139.36 22.98L140.42 21.93M146.21 12.54L146.21 23.50M169.29 14.10L168.23 13.06L166.63 12.54L164.50 12.54L162.90 13.06L161.84 14.10L161.84 15.15L162.37 16.19L162.90 16.71L163.97 17.24L167.16 18.28L168.23 18.80L168.76 19.32L169.29 20.37L169.29 21.93L168.23 22.98L166.63 23.50L164.50 23.50L162.90 22.98L161.84 21.93M175.22 16.19L175.22 23.50M175.22 18.28L176.82 16.71L177.88 16.19L179.48 16.19L180.54 16.71L181.08 18.28L181.08 23.50M189.61 16.19L188.54 16.71L187.48 17.76L186.95 19.32L186.95 20.37L187.48 21.93L188.54 22.98L189.61 23.50L191.21 23.50L192.27 22.98L193.34 21.93L193.87 20.37L193.87 19.32L193.34 17.76L192.27 16.71L191.21 16.19L189.61 16.19M199.38 16.19L201.51 23.50M203.64 16.19L201.51 23.50M203.64 16.19L205.76 23.50M207.89 16.19L205.76 23.50M216.73 12.54L215.67 12.54L214.60 13.06L214.07 14.63L214.07 23.50M212.48 16.19L216.20 16.19M227.53 16.19L227.53 23.50M227.53 17.76L226.47 16.71L225.41 16.19L223.81 16.19L222.74 16.71L221.68 17.76L221.15 19.32L221.15 20.37L221.68 21.93L222.74 22.98L223.81 23.50L225.41 23.50L226.47 22.98L227.53 21.93M233.32 12.54L233.32 23.50M238.48 12.54L238.48 23.50M258.03 10.45L256.97 11.49L255.90 13.06L254.84 15.15L254.31 17.76L254.31 19.85L254.84 22.46L255.90 24.54L256.97 26.11L258.03 27.15M262.47 12.54L263.00 13.06L263.53 12.54L263.00 12.02L262.47 12.54M263.00 16.19L263.00 23.50M268.78 16.19L268.78 23.50M268.78 18.28L270.38 16.71L271.44 16.19L273.04 16.19L274.11 16.71L274.64 18.28L274.64 23.50M280.23 10.45L281.29 11.49L282.36 13.06L283.42 15.15L283.96 17.76L283.96 19.85L283.42 22.46L282.36 24.54L281.29 26.11L280.23 27.15M300.80 18.80L310.38 18.80M328.62 14.63L329.69 14.10L331.29 12.54L331.29 23.50M343.13 12.54L341.53 13.06L340.46 14.63L339.93 17.24L339.93 18.80L340.46 21.41L341.53 22.98L343.13 23.50L344.19 23.50L345.79 22.98L346.85 21.41L347.38 18.80L347.38 17.24L346.85 14.63L345.79 13.06L344.19 12.54L343.13 12.54M353.34 16.19L352.81 16.71L353.34 17.24L353.87 16.71L353.34 16.19M353.34 22.46L352.81 22.98L353.34 23.50L353.87 22.98L353.34 22.46M360.89 14.63L361.95 14.10L363.55 12.54L363.55 23.50M383.11 12.54L383.11 23.50M383.11 12.54L387.90 12.54L389.50 13.06L390.03 13.58L390.56 14.63L390.56 15.67L390.03 16.71L389.50 17.24L387.90 17.76L383.11 17.76M386.84 17.76L390.56 23.50M402.40 16.19L402.40 23.50M402.40 17.76L401.34 16.71L400.27 16.19L398.68 16.19L397.61 16.71L396.55 17.76L396.01 19.32L396.01 20.37L396.55 21.93L397.61 22.98L398.68 23.50L400.27 23.50L401.34 22.98L402.40 21.93M408.94 12.54L408.94 23.50M407.35 16.19L411.07 16.19M415.40 12.54L415.93 13.06L416.46 12.54L415.93 12.02L415.40 12.54M415.93 16.19L415.93 23.50M423.84 16.19L422.78 16.71L421.71 17.76L421.18 19.32L421.18 20.37L421.71 21.93L422.78 22.98L423.84 23.50L425.44 23.50L426.50 22.98L427.57 21.93L428.10 20.37L428.10 19.32L427.57 17.76L426.50 16.71L425.44 16.19L423.84 16.19" fill="none" stroke="#000" stroke-width="1.60" stroke-linecap="round" stroke-linejoin="round"/>
<path d="M10.20 36.74L14.46 47.70M18.72 36.74L14.46 47.70M29.33 40.39L29.33 47.70M29.33 41.96L28.26 40.91L27.20 40.39L25.60 40.39L24.54 40.91L23.47 41.96L22.94 43.52L22.94 44.57L23.47 46.13L24.54 47.18L25.60 47.70L27.20 47.70L28.26 47.18L29.33 46.13M35.11 36.74L35.11 47.70M39.74 36.74L40.28 37.26L40.81 36.74L40.28 36.22L39.74 36.74M40.28 40.39L40.28 47.70M51.92 36.74L51.92 47.70M51.92 41.96L50.85 40.91L49.79 40.39L48.19 40.39L47.13 40.91L46.06 41.96L45.53 43.52L45.53 44.57L46.06 46.13L47.13 47.18L48.19 47.70L49.79 47.70L50.85 47.18L51.92 46.13M58.35 40.39L57.82 40.91L58.35 41.44L58.88 40.91L58.35 40.39M58.35 46.66L57.82 47.18L58.35 47.70L58.88 47.18L58.35 46.66M76.23 38.83L77.29 38.30L78.89 36.74L78.89 47.70M88.07 39.35L88.07 38.83L88.60 37.78L89.13 37.26L90.20 36.74L92.33 36.74L93.39 37.26L93.93 37.78L94.46 38.83L94.46 39.87L93.93 40.91L92.86 42.48L87.54 47.70L94.99 47.70M106.13 40.39L100.28 47.70M100.28 40.39L106.13 40.39M100.28 47.70L106.13 47.70M122.50 36.74L122.50 47.70M122.50 36.74L126.76 47.70M131.02 36.74L126.76 47.70M131.02 36.74L131.02 47.70M139.84 40.39L138.77 40.91L137.71 41.96L137.18 43.52L137.18 44.57L137.71 46.13L138.77 47.18L139.84 47.70L141.44 47.70L142.50 47.18L143.57 46.13L144.10 44.57L144.10 43.52L143.57 41.96L142.50 40.91L141.44 40.39L139.84 40.39M149.97 40.39L149.97 47.70M149.97 42.48L151.57 40.91L152.64 40.39L154.23 40.39L155.30 40.91L155.83 42.48L155.83 47.70M173.15 36.74L179.01 36.74L175.81 40.91L177.41 40.91L178.48 41.44L179.01 41.96L179.54 43.52L179.54 44.57L179.01 46.13L177.94 47.18L176.35 47.70L174.75 47.70L173.15 47.18L172.62 46.66L172.09 45.61M188.19 36.74L186.59 37.26L185.53 38.83L184.99 41.44L184.99 43.00L185.53 45.61L186.59 47.18L188.19 47.70L189.25 47.70L190.85 47.18L191.92 45.61L192.45 43.00L192.45 41.44L191.92 38.83L190.85 37.26L189.25 36.74L188.19 36.74M208.99 36.74L208.99 47.70M208.99 36.74L213.25 47.70M217.51 36.74L213.25 47.70M217.51 36.74L217.51 47.70M230.05 40.39L230.05 47.70M230.05 41.96L228.99 40.91L227.92 40.39L226.33 40.39L225.26 40.91L224.20 41.96L223.66 43.52L223.66 44.57L224.20 46.13L225.26 47.18L226.33 47.70L227.92 47.70L228.99 47.18L230.05 46.13M236.12 40.39L236.12 47.70M236.12 43.52L236.65 41.96L237.72 40.91L238.78 40.39L240.38 40.39M255.23 39.35L255.23 38.83L255.76 37.78L256.30 37.26L257.36 36.74L259.49 36.74L260.56 37.26L261.09 37.78L261.62 38.83L261.62 39.87L261.09 40.91L260.02 42.48L254.70 47.70L262.15 47.70M270.80 36.74L269.21 37.26L268.14 38.83L267.61 41.44L267.61 43.00L268.14 45.61L269.21 47.18L270.80 47.70L271.87 47.70L273.47 47.18L274.53 45.61L275.06 43.00L275.06 41.44L274.53 38.83L273.47 37.26L271.87 36.74L270.80 36.74M281.05 39.35L281.05 38.83L281.58 37.78L282.11 37.26L283.18 36.74L285.31 36.74L286.37 37.26L286.91 37.78L287.44 38.83L287.44 39.87L286.91 40.91L285.84 42.48L280.52 47.70L287.97 47.70M300.35 38.30L299.81 37.26L298.22 36.74L297.15 36.74L295.55 37.26L294.49 38.83L293.96 41.44L293.96 44.05L294.49 46.13L295.55 47.18L297.15 47.70L297.68 47.70L299.28 47.18L300.35 46.13L300.88 44.57L300.88 44.05L300.35 42.48L299.28 41.44L297.68 40.91L297.15 40.91L295.55 41.44L294.49 42.48L293.96 44.05M317.53 43.00L327.12 43.00M345.36 38.83L346.43 38.30L348.03 36.74L348.03 47.70M357.21 39.35L357.21 38.83L357.74 37.78L358.27 37.26L359.34 36.74L361.47 36.74L362.53 37.26L363.07 37.78L363.60 38.83L363.60 39.87L363.07 40.91L362.00 42.48L356.68 47.70L364.13 47.70M375.27 40.39L369.41 47.70M369.41 40.39L375.27 40.39M369.41 47.70L375.27 47.70M390.58 36.74L393.24 47.70M395.90 36.74L393.24 47.70M395.90 36.74L398.56 47.70M401.23 36.74L398.56 47.70M406.26 43.52L412.65 43.52L412.65 42.48L412.12 41.44L411.58 40.91L410.52 40.39L408.92 40.39L407.86 40.91L406.79 41.96L406.26 43.52L406.26 44.57L406.79 46.13L407.86 47.18L408.92 47.70L410.52 47.70L411.58 47.18L412.65 46.13M424.32 36.74L424.32 47.70M424.32 41.96L423.26 40.91L422.19 40.39L420.60 40.39L419.53 40.91L418.47 41.96L417.93 43.52L417.93 44.57L418.47 46.13L419.53 47.18L420.60 47.70L422.19 47.70L423.26 47.18L424.32 46.13M443.77 36.74L442.18 37.26L441.11 38.83L440.58 41.44L440.58 43.00L441.11 45.61L442.18 47.18L443.77 47.70L444.84 47.70L446.44 47.18L447.50 45.61L448.03 43.00L448.03 41.44L447.50 38.83L446.44 37.26L444.84 36.74L443.77 36.74M455.09 38.83L456.15 38.30L457.75 36.74L457.75 47.70M479.80 36.74L475.55 47.70M479.80 36.74L484.06 47.70M477.14 44.05L482.47 44.05M488.82 40.39L488.82 51.35M488.82 41.96L489.88 40.91L490.95 40.39L492.54 40.39L493.61 40.91L494.67 41.96L495.21 43.52L495.21 44.57L494.67 46.13L493.61 47.18L492.54 47.70L490.95 47.70L489.88 47.18L488.82 46.13M500.74 40.39L500.74 47.70M500.74 43.52L501.27 41.96L502.34 40.91L503.40 40.39L505.00 40.39M519.85 39.35L519.85 38.83L520.39 37.78L520.92 37.26L521.98 36.74L524.11 36.74L525.18 37.26L525.71 37.78L526.24 38.83L526.24 39.87L525.71 40.91L524.65 42.48L519.32 47.70L526.78 47.70M535.42 36.74L533.83 37.26L532.76 38.83L532.23 41.44L532.23 43.00L532.76 45.61L533.83 47.18L535.42 47.70L536.49 47.70L538.09 47.18L539.15 45.61L539.68 43.00L539.68 41.44L539.15 38.83L538.09 37.26L536.49 36.74L535.42 36.74M545.67 39.35L545.67 38.83L546.20 37.78L546.73 37.26L547.80 36.74L549.93 36.74L550.99 37.26L551.53 37.78L552.06 38.83L552.06 39.87L551.53 40.91L550.46 42.48L545.14 47.70L552.59 47.70M564.97 38.30L564.44 37.26L562.84 36.74L561.77 36.74L560.18 37.26L559.11 38.83L558.58 41.44L558.58 44.05L559.11 46.13L560.18 47.18L561.77 47.70L562.31 47.70L563.90 47.18L564.97 46.13L565.50 44.57L565.50 44.05L564.97 42.48L563.90 41.44L562.31 40.91L561.77 40.91L560.18 41.44L559.11 42.48L558.58 44.05" fill="none" stroke="#000" stroke-width="1.60" stroke-linecap="round" stroke-linejoin="round"/>
<path d="M616.74 12.54L612.10 23.50M616.74 12.54L621.39 23.50M613.84 19.85L619.64 19.85M624.94 12.54L624.94 23.50M630.44 18.80L640.89 18.80M645.64 12.54L648.54 23.50M651.44 12.54L648.54 23.50M651.44 12.54L654.34 23.50M657.24 12.54L654.34 23.50M661.81 12.54L661.81 23.50M661.81 12.54L669.35 12.54M661.81 17.76L666.45 17.76M661.81 23.50L669.35 23.50M676.67 12.54L672.03 23.50M676.67 12.54L681.32 23.50M673.77 19.85L679.57 19.85M687.40 12.54L687.40 23.50M683.33 12.54L691.46 12.54M695.32 12.54L695.32 23.50M703.44 12.54L703.44 23.50M695.32 17.76L703.44 17.76M709.12 12.54L709.12 23.50M709.12 12.54L716.67 12.54M709.12 17.76L713.77 17.76M709.12 23.50L716.67 23.50M721.16 12.54L721.16 23.50M721.16 12.54L726.38 12.54L728.12 13.06L728.70 13.58L729.28 14.63L729.28 15.67L728.70 16.71L728.12 17.24L726.38 17.76L721.16 17.76M725.22 17.76L729.28 23.50M734.43 12.54L734.43 23.50M734.43 12.54L742.56 23.50M742.56 12.54L742.56 23.50M748.23 12.54L748.23 23.50M748.23 12.54L755.78 12.54M748.23 17.76L752.88 17.76M748.23 23.50L755.78 23.50M759.66 12.54L767.79 23.50M767.79 12.54L759.66 23.50M775.08 12.54L775.08 23.50M771.02 12.54L779.14 12.54M782.96 15.15L782.96 14.63L783.54 13.58L784.12 13.06L785.28 12.54L787.60 12.54L788.76 13.06L789.34 13.58L789.92 14.63L789.92 15.67L789.34 16.71L788.18 18.28L782.37 23.50L790.50 23.50" fill="none" stroke="#000" stroke-width="1.60" stroke-linecap="round" stroke-linejoin="round"/>
<path d="M618.80 36.74L618.80 47.70M626.21 36.74L626.21 47.70M618.80 41.96L626.21 41.96M634.87 40.39L633.81 40.91L632.75 41.96L632.22 43.52L632.22 44.57L632.75 46.13L633.81 47.18L634.87 47.70L636.46 47.70L637.52 47.18L638.57 46.13L639.10 44.57L639.10 43.52L638.57 41.96L637.52 40.91L636.46 40.39L634.87 40.39M644.94 40.39L644.94 45.61L645.47 47.18L646.53 47.70L648.12 47.70L649.18 47.18L650.77 45.61M650.77 40.39L650.77 47.70M656.80 40.39L656.80 47.70M656.80 43.52L657.33 41.96L658.39 40.91L659.45 40.39L661.04 40.39M665.50 40.39L664.97 40.91L665.50 41.44L666.03 40.91L665.50 40.39M665.50 46.66L664.97 47.18L665.50 47.70L666.03 47.18L665.50 46.66M682.75 36.74L688.57 36.74L685.40 40.91L686.99 40.91L688.04 41.44L688.57 41.96L689.10 43.52L689.10 44.57L688.57 46.13L687.52 47.18L685.93 47.70L684.34 47.70L682.75 47.18L682.22 46.66L681.69 45.61M696.11 38.83L697.17 38.30L698.76 36.74L698.76 47.70M707.89 39.35L707.89 38.83L708.42 37.78L708.95 37.26L710.01 36.74L712.13 36.74L713.19 37.26L713.71 37.78L714.24 38.83L714.24 39.87L713.71 40.91L712.66 42.48L707.36 47.70L714.77 47.70M731.33 43.00L740.86 43.00M758.48 36.74L764.30 36.74L761.12 40.91L762.71 40.91L763.77 41.44L764.30 41.96L764.83 43.52L764.83 44.57L764.30 46.13L763.24 47.18L761.65 47.70L760.07 47.70L758.48 47.18L757.95 46.66L757.42 45.61M777.14 38.30L776.61 37.26L775.02 36.74L773.96 36.74L772.37 37.26L771.31 38.83L770.78 41.44L770.78 44.05L771.31 46.13L772.37 47.18L773.96 47.70L774.49 47.70L776.08 47.18L777.14 46.13L777.67 44.57L777.67 44.05L777.14 42.48L776.08 41.44L774.49 40.91L773.96 40.91L772.37 41.44L771.31 42.48L770.78 44.05M786.26 36.74L784.68 37.26L783.62 38.83L783.09 41.44L783.09 43.00L783.62 45.61L784.68 47.18L786.26 47.70L787.32 47.70L788.91 47.18L789.97 45.61L790.50 43.00L790.50 41.44L789.97 38.83L788.91 37.26L787.32 36.74L786.26 36.74" fill="none" stroke="#000" stroke-width="1.60" stroke-linecap="round" stroke-linejoin="round"/>
<path d="M9.30 568.61L9.30 578.90M9.30 568.61L13.08 578.90M16.87 568.61L13.08 578.90M16.87 568.61L16.87 578.90M28.01 572.04L28.01 578.90M28.01 573.51L27.07 572.53L26.12 572.04L24.70 572.04L23.76 572.53L22.81 573.51L22.34 574.98L22.34 575.96L22.81 577.43L23.76 578.41L24.70 578.90L26.12 578.90L27.07 578.41L28.01 577.43M33.13 572.04L38.34 578.90M38.34 572.04L33.13 578.90M43.48 572.04L43.00 572.53L43.48 573.02L43.95 572.53L43.48 572.04M43.48 577.92L43.00 578.41L43.48 578.90L43.95 578.41L43.48 577.92M60.78 568.61L59.36 569.10L58.41 570.57L57.94 573.02L57.94 574.49L58.41 576.94L59.36 578.41L60.78 578.90L61.72 578.90L63.14 578.41L64.09 576.94L64.56 574.49L64.56 573.02L64.09 570.57L63.14 569.10L61.72 568.61L60.78 568.61M69.85 577.92L69.38 578.41L69.85 578.90L70.33 578.41L69.85 577.92M77.98 568.61L76.56 569.10L75.62 570.57L75.14 573.02L75.14 574.49L75.62 576.94L76.56 578.41L77.98 578.90L78.93 578.90L80.35 578.41L81.29 576.94L81.77 574.49L81.77 573.02L81.29 570.57L80.35 569.10L78.93 568.61L77.98 568.61M95.18 568.61L95.66 569.10L96.13 568.61L95.66 568.12L95.18 568.61M95.66 572.04L95.66 578.90M100.80 572.04L100.80 578.90M100.80 574.00L102.22 572.53L103.16 572.04L104.58 572.04L105.53 572.53L106.00 574.00L106.00 578.90" fill="none" stroke="#000" stroke-width="1.00" stroke-linecap="round" stroke-linejoin="round"/>
<path d="M9.30 583.21L9.30 593.50M9.30 583.21L13.11 593.50M16.92 583.21L13.11 593.50M16.92 583.21L16.92 593.50M21.88 583.21L22.35 583.70L22.83 583.21L22.35 582.72L21.88 583.21M22.35 586.64L22.35 593.50M27.53 586.64L27.53 593.50M27.53 588.60L28.96 587.13L29.91 586.64L31.34 586.64L32.29 587.13L32.77 588.60L32.77 593.50M38.52 586.64L38.05 587.13L38.52 587.62L39.00 587.13L38.52 586.64M38.52 592.52L38.05 593.01L38.52 593.50L39.00 593.01L38.52 592.52M55.95 583.21L54.52 583.70L53.57 585.17L53.09 587.62L53.09 589.09L53.57 591.54L54.52 593.01L55.95 593.50L56.91 593.50L58.33 593.01L59.29 591.54L59.76 589.09L59.76 587.62L59.29 585.17L58.33 583.70L56.91 583.21L55.95 583.21M65.09 592.52L64.62 593.01L65.09 593.50L65.57 593.01L65.09 592.52M73.28 583.21L71.85 583.70L70.90 585.17L70.42 587.62L70.42 589.09L70.90 591.54L71.85 593.01L73.28 593.50L74.23 593.50L75.66 593.01L76.61 591.54L77.09 589.09L77.09 587.62L76.61 585.17L75.66 583.70L74.23 583.21L73.28 583.21M90.61 583.21L91.08 583.70L91.56 583.21L91.08 582.72L90.61 583.21M91.08 586.64L91.08 593.50M96.26 586.64L96.26 593.50M96.26 588.60L97.69 587.13L98.64 586.64L100.07 586.64L101.02 587.13L101.50 588.60L101.50 593.50" fill="none" stroke="#000" stroke-width="1.00" stroke-linecap="round" stroke-linejoin="round"/>
<path d="M266.27 581.92L264.98 580.60L263.04 579.94L260.45 579.94L258.52 580.60L257.23 581.92L257.23 583.24L257.87 584.56L258.52 585.22L259.81 585.88L263.68 587.20L264.98 587.86L265.62 588.52L266.27 589.84L266.27 591.82L264.98 593.14L263.04 593.80L260.45 593.80L258.52 593.14L257.23 591.82M273.12 579.94L273.12 593.80M271.18 584.56L275.70 584.56M284.44 584.56L283.15 585.22L281.86 586.54L281.21 588.52L281.21 589.84L281.86 591.82L283.15 593.14L284.44 593.80L286.38 593.80L287.67 593.14L288.96 591.82L289.61 589.84L289.61 588.52L288.96 586.54L287.67 585.22L286.38 584.56L284.44 584.56M295.81 584.56L295.81 593.80M295.81 588.52L296.46 586.54L297.75 585.22L299.04 584.56L300.98 584.56M306.47 584.56L306.47 593.80M306.47 587.20L308.41 585.22L309.70 584.56L311.64 584.56L312.93 585.22L313.58 587.20L313.58 593.80M313.58 587.20L315.51 585.22L316.81 584.56L318.74 584.56L320.04 585.22L320.68 587.20L320.68 593.80M326.44 579.94L331.60 593.80M336.77 579.94L331.60 593.80M340.72 579.94L341.37 580.60L342.02 579.94L341.37 579.28L340.72 579.94M341.37 584.56L341.37 593.80M354.31 586.54L353.67 585.22L351.73 584.56L349.79 584.56L347.85 585.22L347.21 586.54L347.85 587.86L349.14 588.52L352.37 589.18L353.67 589.84L354.31 591.16L354.31 591.82L353.67 593.14L351.73 593.80L349.79 593.80L347.85 593.14L347.21 591.82M361.00 579.94L361.00 593.80M359.07 584.56L363.59 584.56M376.85 584.56L376.85 593.80M376.85 586.54L375.55 585.22L374.26 584.56L372.32 584.56L371.03 585.22L369.74 586.54L369.09 588.52L369.09 589.84L369.74 591.82L371.03 593.14L372.32 593.80L374.26 593.80L375.55 593.14L376.85 591.82M382.98 579.94L386.21 593.80M389.44 579.94L386.21 593.80M389.44 579.94L392.67 593.80M395.90 579.94L392.67 593.80M401.29 584.56L408.39 593.80M408.39 584.56L401.29 593.80M415.07 579.94L415.07 593.80M415.07 579.94L420.24 593.80M425.41 579.94L420.24 593.80M425.41 579.94L425.41 593.80M435.42 584.56L434.13 585.22L432.84 586.54L432.19 588.52L432.19 589.84L432.84 591.82L434.13 593.14L435.42 593.80L437.36 593.80L438.65 593.14L439.94 591.82L440.59 589.84L440.59 588.52L439.94 586.54L438.65 585.22L437.36 584.56L435.42 584.56M454.21 579.94L454.21 593.80M454.21 586.54L452.92 585.22L451.63 584.56L449.69 584.56L448.40 585.22L447.11 586.54L446.46 588.52L446.46 589.84L447.11 591.82L448.40 593.14L449.69 593.80L451.63 593.80L452.92 593.14L454.21 591.82M460.68 588.52L468.43 588.52L468.43 587.20L467.79 585.88L467.14 585.22L465.85 584.56L463.91 584.56L462.62 585.22L461.33 586.54L460.68 588.52L460.68 589.84L461.33 591.82L462.62 593.14L463.91 593.80L465.85 593.80L467.14 593.14L468.43 591.82M474.32 579.94L474.32 593.80M487.27 586.54L486.62 585.22L484.68 584.56L482.74 584.56L480.81 585.22L480.16 586.54L480.81 587.86L482.10 588.52L485.33 589.18L486.62 589.84L487.27 591.16L487.27 591.82L486.62 593.14L484.68 593.80L482.74 593.80L480.81 593.14L480.16 591.82M493.85 592.48L493.21 593.14L493.85 593.80L494.50 593.14L493.85 592.48M508.25 586.54L506.95 585.22L505.66 584.56L503.72 584.56L502.43 585.22L501.14 586.54L500.49 588.52L500.49 589.84L501.14 591.82L502.43 593.14L503.72 593.80L505.66 593.80L506.95 593.14L508.25 591.82M517.30 584.56L516.00 585.22L514.71 586.54L514.07 588.52L514.07 589.84L514.71 591.82L516.00 593.14L517.30 593.80L519.23 593.80L520.53 593.14L521.82 591.82L522.46 589.84L522.46 588.52L521.82 586.54L520.53 585.22L519.23 584.56L517.30 584.56M529.56 584.56L529.56 593.80M529.56 587.20L531.50 585.22L532.79 584.56L534.73 584.56L536.02 585.22L536.67 587.20L536.67 593.80M536.67 587.20L538.61 585.22L539.90 584.56L541.84 584.56L543.13 585.22L543.77 587.20L543.77 593.80" fill="none" stroke="#000" stroke-width="1.25" stroke-linecap="round" stroke-linejoin="round"/>
<path d="M602.35 576.74L602.35 584.30M606.43 579.26L606.43 584.30M606.43 580.70L607.56 579.62L608.31 579.26L609.44 579.26L610.19 579.62L610.57 580.70L610.57 584.30M614.28 576.74L614.65 577.10L615.03 576.74L614.65 576.38L614.28 576.74M614.65 579.26L614.65 584.30M618.83 576.74L618.83 584.30M617.71 579.26L620.34 579.26M624.22 579.26L623.85 579.62L624.22 579.98L624.60 579.62L624.22 579.26M624.22 583.58L623.85 583.94L624.22 584.30L624.60 583.94L624.22 583.58M636.84 578.18L637.60 577.82L638.72 576.74L638.72 584.30M645.21 578.54L645.21 578.18L645.58 577.46L645.96 577.10L646.71 576.74L648.21 576.74L648.96 577.10L649.34 577.46L649.72 578.18L649.72 578.90L649.34 579.62L648.59 580.70L644.83 584.30L650.09 584.30M657.96 579.26L653.82 584.30M653.82 579.26L657.96 579.26M653.82 584.30L657.96 584.30M670.70 576.74L670.70 584.30M668.07 576.74L673.33 576.74M676.61 579.26L676.61 582.86L676.98 583.94L677.73 584.30L678.86 584.30L679.61 583.94L680.74 582.86M680.74 579.26L680.74 584.30M684.85 581.42L689.36 581.42L689.36 580.70L688.98 579.98L688.61 579.62L687.86 579.26L686.73 579.26L685.98 579.62L685.22 580.34L684.85 581.42L684.85 582.14L685.22 583.22L685.98 583.94L686.73 584.30L687.86 584.30L688.61 583.94L689.36 583.22M701.55 578.18L702.30 577.82L703.43 576.74L703.43 584.30M714.80 576.74L711.04 584.30M709.53 576.74L714.80 576.74M726.47 576.74L726.47 584.30M726.47 576.74L729.48 584.30M732.49 576.74L729.48 584.30M732.49 576.74L732.49 584.30M741.35 579.26L741.35 584.30M741.35 580.34L740.59 579.62L739.84 579.26L738.71 579.26L737.96 579.62L737.21 580.34L736.83 581.42L736.83 582.14L737.21 583.22L737.96 583.94L738.71 584.30L739.84 584.30L740.59 583.94L741.35 583.22M745.63 579.26L745.63 584.30M745.63 581.42L746.01 580.34L746.76 579.62L747.51 579.26L748.64 579.26M759.12 578.54L759.12 578.18L759.50 577.46L759.87 577.10L760.63 576.74L762.13 576.74L762.88 577.10L763.26 577.46L763.63 578.18L763.63 578.90L763.26 579.62L762.51 580.70L758.75 584.30L764.01 584.30M770.12 576.74L768.99 577.10L768.24 578.18L767.86 579.98L767.86 581.06L768.24 582.86L768.99 583.94L770.12 584.30L770.87 584.30L772.00 583.94L772.75 582.86L773.12 581.06L773.12 579.98L772.75 578.18L772.00 577.10L770.87 576.74L770.12 576.74M777.35 578.54L777.35 578.18L777.73 577.46L778.10 577.10L778.85 576.74L780.36 576.74L781.11 577.10L781.48 577.46L781.86 578.18L781.86 578.90L781.48 579.62L780.73 580.70L776.97 584.30L782.24 584.30M790.97 577.82L790.60 577.10L789.47 576.74L788.72 576.74L787.59 577.10L786.84 578.18L786.46 579.98L786.46 581.78L786.84 583.22L787.59 583.94L788.72 584.30L789.09 584.30L790.22 583.94L790.97 583.22L791.35 582.14L791.35 581.78L790.97 580.70L790.22 579.98L789.09 579.62L788.72 579.62L787.59 579.98L786.84 580.70L786.46 581.78" fill="none" stroke="#000" stroke-width="1.50" stroke-linecap="round" stroke-linejoin="round"/>
<path d="M685.01 592.20L685.01 591.90L685.30 591.30L685.59 591.00L686.17 590.70L687.33 590.70L687.90 591.00L688.19 591.30L688.48 591.90L688.48 592.50L688.19 593.10L687.61 594.00L684.73 597.00L688.77 597.00M692.24 590.70L691.37 591.00L690.79 591.90L690.50 593.40L690.50 594.30L690.79 595.80L691.37 596.70L692.24 597.00L692.82 597.00L693.68 596.70L694.26 595.80L694.55 594.30L694.55 593.40L694.26 591.90L693.68 591.00L692.82 590.70L692.24 590.70M696.57 592.20L696.57 591.90L696.86 591.30L697.15 591.00L697.73 590.70L698.88 590.70L699.46 591.00L699.75 591.30L700.04 591.90L700.04 592.50L699.75 593.10L699.17 594.00L696.28 597.00L700.33 597.00M705.82 591.60L705.53 591.00L704.66 590.70L704.09 590.70L703.22 591.00L702.64 591.90L702.35 593.40L702.35 594.90L702.64 596.10L703.22 596.70L704.09 597.00L704.38 597.00L705.24 596.70L705.82 596.10L706.11 595.20L706.11 594.90L705.82 594.00L705.24 593.40L704.38 593.10L704.09 593.10L703.22 593.40L702.64 594.00L702.35 594.90M708.13 594.30L713.33 594.30M717.09 590.70L716.22 591.00L715.65 591.90L715.36 593.40L715.36 594.30L715.65 595.80L716.22 596.70L717.09 597.00L717.67 597.00L718.54 596.70L719.11 595.80L719.40 594.30L719.40 593.40L719.11 591.90L718.54 591.00L717.67 590.70L717.09 590.70M721.71 590.70L724.89 590.70L723.16 593.10L724.03 593.10L724.60 593.40L724.89 593.70L725.18 594.60L725.18 595.20L724.89 596.10L724.31 596.70L723.45 597.00L722.58 597.00L721.71 596.70L721.42 596.40L721.14 595.80M727.20 594.30L732.41 594.30M735.30 591.90L735.87 591.60L736.74 590.70L736.74 597.00M744.25 590.70L741.36 597.00M740.21 590.70L744.25 590.70M746.28 594.30L751.48 594.30M754.37 591.90L754.95 591.60L755.81 590.70L755.81 597.00M763.04 592.80L762.75 593.70L762.17 594.30L761.30 594.60L761.01 594.60L760.15 594.30L759.57 593.70L759.28 592.80L759.28 592.50L759.57 591.60L760.15 591.00L761.01 590.70L761.30 590.70L762.17 591.00L762.75 591.60L763.04 592.80L763.04 594.30L762.75 595.80L762.17 596.70L761.30 597.00L760.73 597.00L759.86 596.70L759.57 596.10M765.64 592.80L765.35 593.10L765.64 593.40L765.93 593.10L765.64 592.80M765.64 596.40L765.35 596.70L765.64 597.00L765.93 596.70L765.64 596.40M768.53 590.70L771.71 590.70L769.97 593.10L770.84 593.10L771.42 593.40L771.71 593.70L772.00 594.60L772.00 595.20L771.71 596.10L771.13 596.70L770.26 597.00L769.39 597.00L768.53 596.70L768.24 596.40L767.95 595.80M777.20 590.70L774.31 590.70L774.02 593.40L774.31 593.10L775.17 592.80L776.04 592.80L776.91 593.10L777.49 593.70L777.77 594.60L777.77 595.20L777.49 596.10L776.91 596.70L776.04 597.00L775.17 597.00L774.31 596.70L774.02 596.40L773.73 595.80" fill="none" stroke="#000" stroke-width="1.05" stroke-linecap="round" stroke-linejoin="round"/>
<path d="M784.70 592.59L784.70 595.74L784.98 596.37L785.55 596.79L786.41 597.00L786.98 597.00L787.83 596.79L788.40 596.37L788.68 595.74L788.68 592.59M792.10 592.59L792.10 597.00M790.11 592.59L794.09 592.59M799.50 593.64L799.22 593.22L798.65 592.80L798.08 592.59L796.94 592.59L796.37 592.80L795.80 593.22L795.52 593.64L795.23 594.27L795.23 595.32L795.52 595.95L795.80 596.37L796.37 596.79L796.94 597.00L798.08 597.00L798.65 596.79L799.22 596.37L799.50 595.95" fill="none" stroke="#000" stroke-width="1.00" stroke-linecap="round" stroke-linejoin="round"/>
</svg>
</body></html>
